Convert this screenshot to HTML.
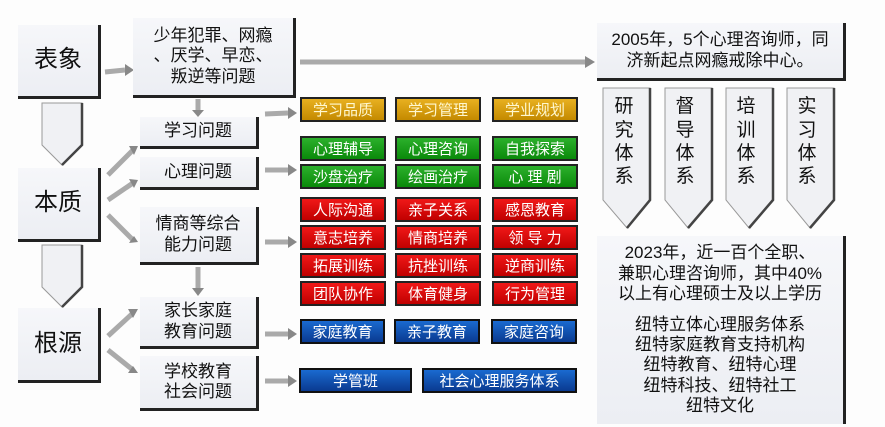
<!DOCTYPE html>
<html><head><meta charset="utf-8"><style>
body{margin:0;width:885px;height:427px;background:#fdfdfd;position:relative;overflow:hidden;font-family:"Liberation Sans","Noto Sans CJK SC",sans-serif;}
.b{position:absolute;box-sizing:border-box;background:linear-gradient(#f6f7fa,#eceef3);border-right:3px solid #222;border-bottom:3px solid #222;display:flex;align-items:center;justify-content:center;text-align:center;color:#111;line-height:1.2;}
.c{position:absolute;box-sizing:border-box;height:25px;border:2px solid #222;color:#fff;font-size:15px;display:flex;align-items:center;justify-content:center;}
.g{background:linear-gradient(#e8b020,#c48a00);color:#fff8d0}
.gr{background:linear-gradient(#2cb02c,#0a8a0a)}
.r{background:linear-gradient(#f01818,#c00000)}
.bl{background:linear-gradient(#1a6ad0,#0a3a90);border-color:#111}
</style></head><body>
<svg width="885" height="427" style="position:absolute;left:0;top:0">
<g fill="#f0f1f4" stroke="#999" stroke-width="1">
<polygon points="42,103 82,103 82,145 62,165 42,145"/>
<polygon points="42,245 82,245 82,287 62,307 42,287"/>
<polygon points="603,88 650,88 650,200 627,228 603,200"/>
<polygon points="665,88 712,88 712,200 688,228 665,200"/>
<polygon points="726,88 773,88 773,200 749,228 726,200"/>
<polygon points="787,88 834,88 834,200 810,228 787,200"/>
</g>
<g stroke="#444" stroke-width="2.5" fill="none">
<polyline points="82,103 82,145 62,165"/><polyline points="82,245 82,287 62,307"/>
<polyline points="650,88 650,200 627,228"/><polyline points="712,88 712,200 688,228"/>
<polyline points="773,88 773,200 749,228"/><polyline points="834,88 834,200 810,228"/>
</g>
<g stroke="#aaa" stroke-width="5" fill="none">
<line x1="105" y1="72" x2="125" y2="70"/><line x1="300" y1="62" x2="585" y2="62"/>
<line x1="198" y1="99" x2="198" y2="110"/><line x1="198" y1="267" x2="198" y2="288"/>
<line x1="108" y1="175" x2="133" y2="150"/><line x1="108" y1="200" x2="133" y2="183"/><line x1="108" y1="215" x2="133" y2="240"/>
<line x1="108" y1="336" x2="133" y2="313"/><line x1="108" y1="350" x2="133" y2="370"/>
<line x1="265" y1="114" x2="288" y2="113"/><line x1="265" y1="170" x2="288" y2="170"/><line x1="265" y1="242" x2="288" y2="242"/>
<line x1="265" y1="334" x2="288" y2="334"/><line x1="265" y1="381" x2="288" y2="381"/>
</g>
<g fill="#888">
<polygon points="125,64 134,70 125,76"/><polygon points="585,56 595,62 585,68"/>
<polygon points="192,110 204,110 198,117"/><polygon points="192,288 204,288 198,296"/>
<polygon points="129,146 138,146 134,155"/><polygon points="129,179 138,180 134,188"/><polygon points="129,243 138,242 134,236"/>
<polygon points="128,309 138,309 133,318"/><polygon points="128,373 138,373 133,366"/>
<polygon points="288,107 297,113 288,119"/><polygon points="288,164 297,170 288,176"/><polygon points="288,236 297,242 288,248"/>
<polygon points="288,328 297,334 288,340"/><polygon points="288,375 297,381 288,387"/>
</g>
<g font-family="Liberation Sans,Noto Sans CJK SC,sans-serif" font-size="19" fill="#111">
<text x="624" y="112" text-anchor="middle">研</text><text x="624" y="136" text-anchor="middle">究</text><text x="624" y="159" text-anchor="middle">体</text><text x="624" y="182" text-anchor="middle">系</text>
<text x="685" y="112" text-anchor="middle">督</text><text x="685" y="136" text-anchor="middle">导</text><text x="685" y="159" text-anchor="middle">体</text><text x="685" y="182" text-anchor="middle">系</text>
<text x="746" y="112" text-anchor="middle">培</text><text x="746" y="136" text-anchor="middle">训</text><text x="746" y="159" text-anchor="middle">体</text><text x="746" y="182" text-anchor="middle">系</text>
<text x="807" y="112" text-anchor="middle">实</text><text x="807" y="136" text-anchor="middle">习</text><text x="807" y="159" text-anchor="middle">体</text><text x="807" y="182" text-anchor="middle">系</text>
</g>
</svg>
<div class="b" style="left:18px;top:25px;width:83px;height:74px;font-size:24px">表象</div>
<div class="b" style="left:18px;top:168px;width:83px;height:74px;font-size:24px">本质</div>
<div class="b" style="left:18px;top:308px;width:83px;height:75px;font-size:24px">根源</div>
<div class="b" style="left:133px;top:18px;width:163px;height:80px;font-size:17px">少年犯罪、网瘾<br>、厌学、早恋、<br>叛逆等问题</div>
<div class="b" style="left:140px;top:117px;width:119px;height:32px;font-size:17px">学习问题</div>
<div class="b" style="left:140px;top:157px;width:119px;height:33px;font-size:17px">心理问题</div>
<div class="b" style="left:140px;top:207px;width:119px;height:58px;font-size:17px">情商等综合<br>能力问题</div>
<div class="b" style="left:140px;top:297px;width:119px;height:52px;font-size:17px">家长家庭<br>教育问题</div>
<div class="b" style="left:140px;top:356px;width:119px;height:55px;font-size:17px">学校教育<br>社会问题</div>
<div class="b" style="left:597px;top:23px;width:249px;height:58px;font-size:17px">2005年，5个心理咨询师，同<br>济新起点网瘾戒除中心。</div>
<div class="b" style="left:597px;top:236px;width:249px;height:188px;font-size:17px;border-bottom:none;flex-direction:column;line-height:1.2"><div>2023年，近一百个全职、<br>兼职心理咨询师，其中40%<br>以上有心理硕士及以上学历</div><div style="margin-top:10px">纽特立体心理服务体系<br>纽特家庭教育支持机构<br>纽特教育、纽特心理<br>纽特科技、纽特社工<br>纽特文化</div></div>
<div class="c g" style="left:300px;top:97px;width:86px">学习品质</div>
<div class="c g" style="left:395px;top:97px;width:86px">学习管理</div>
<div class="c g" style="left:492px;top:97px;width:86px">学业规划</div>
<div class="c gr" style="left:300px;top:136px;width:86px">心理辅导</div>
<div class="c gr" style="left:395px;top:136px;width:86px">心理咨询</div>
<div class="c gr" style="left:492px;top:136px;width:86px">自我探索</div>
<div class="c gr" style="left:300px;top:164px;width:86px">沙盘治疗</div>
<div class="c gr" style="left:395px;top:164px;width:86px">绘画治疗</div>
<div class="c gr" style="left:492px;top:164px;width:86px">心 理 剧</div>
<div class="c r" style="left:300px;top:197px;width:86px">人际沟通</div>
<div class="c r" style="left:395px;top:197px;width:86px">亲子关系</div>
<div class="c r" style="left:492px;top:197px;width:86px">感恩教育</div>
<div class="c r" style="left:300px;top:225px;width:86px">意志培养</div>
<div class="c r" style="left:395px;top:225px;width:86px">情商培养</div>
<div class="c r" style="left:492px;top:225px;width:86px">领 导 力</div>
<div class="c r" style="left:300px;top:253px;width:86px">拓展训练</div>
<div class="c r" style="left:395px;top:253px;width:86px">抗挫训练</div>
<div class="c r" style="left:492px;top:253px;width:86px">逆商训练</div>
<div class="c r" style="left:300px;top:281px;width:86px">团队协作</div>
<div class="c r" style="left:395px;top:281px;width:86px">体育健身</div>
<div class="c r" style="left:492px;top:281px;width:86px">行为管理</div>
<div class="c bl" style="left:300px;top:319px;width:85px">家庭教育</div>
<div class="c bl" style="left:394px;top:319px;width:86px">亲子教育</div>
<div class="c bl" style="left:491px;top:319px;width:86px">家庭咨询</div>
<div class="c bl" style="left:299px;top:368px;width:113px">学管班</div>
<div class="c bl" style="left:422px;top:368px;width:155px">社会心理服务体系</div>
</body></html>
